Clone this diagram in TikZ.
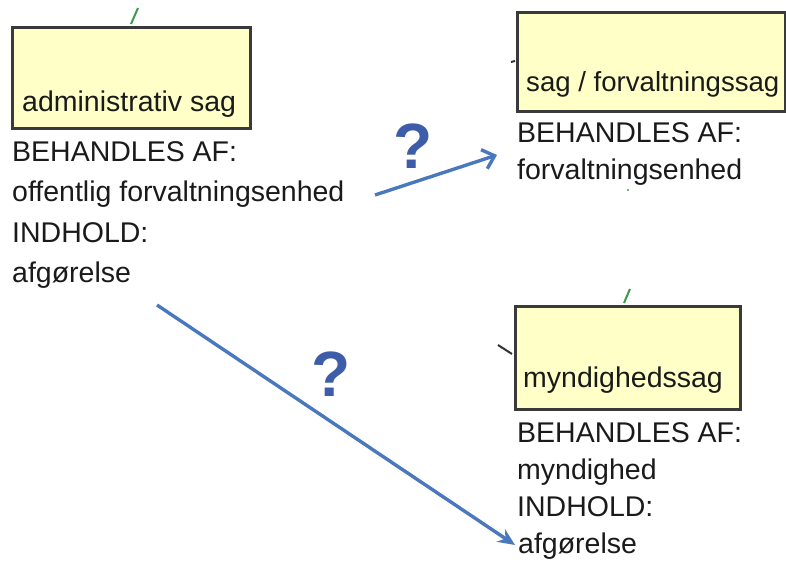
\documentclass[tikz,border=0pt]{standalone}
\usepackage{fontspec}
\setmainfont{Liberation Sans}
\usetikzlibrary{arrows.meta}
\definecolor{boxfill}{HTML}{FFFFC8}
\definecolor{boxline}{HTML}{3A3A3A}
\definecolor{linkblue}{HTML}{4A78BE}
\definecolor{qblue}{HTML}{3D5DA8}
\definecolor{tickgreen}{HTML}{3A9A4A}
\definecolor{txt}{HTML}{1A1A1A}
\begin{document}
\begin{tikzpicture}[x=1pt,y=-1pt,
  classbox/.style={draw=boxline, line width=2.6pt, fill=boxfill, anchor=north west, inner sep=0pt},
  lbl/.style={anchor=base west, inner sep=0pt, text=txt, font=\fontsize{28.5}{34}\selectfont},
  link/.style={draw=linkblue, line width=3.4pt},
  qmark/.style={text=qblue, font=\fontsize{64}{64}\selectfont\bfseries, inner sep=0pt},
  stub/.style={line width=2pt}]
\useasboundingbox (0,0) rectangle (786,569);

% class boxes
\node[classbox, minimum width=238pt, minimum height=101pt] (b1) at (11,26) {};
\node[classbox, minimum width=268pt, minimum height=99pt] (b2) at (516,11) {};
\node[classbox, minimum width=225pt, minimum height=103pt] (b3) at (514,305) {};

% small connector stubs on the boxes
\draw[stub, tickgreen] (131,24) -- (138,8);
\draw[stub, tickgreen] (624,303) -- (630,289);
\draw[stub, black!80] (498,345) -- (512,354);
\draw[stub, black!80] (511,62) -- (515,61);
\fill[tickgreen] (628,190) circle (1.2pt);

% box titles
\node[lbl] (t1) at (22,112) {administrativ sag};
\node[lbl, font=\fontsize{27.6}{34}\selectfont] (t2) at (526,92) {sag / forvaltningssag};
\node[lbl] (t3) at (523,387) {myndighedssag};

% attributes of "administrativ sag"
\node[lbl] (l11) at (12,162) {BEHANDLES AF:};
\node[lbl] (l12) at (12,202) {offentlig forvaltningsenhed};
\node[lbl] (l13) at (12,242) {INDHOLD:};
\node[lbl] (l14) at (12,282) {afgørelse};

% attributes of "sag / forvaltningssag"
\node[lbl] (l21) at (517,143) {BEHANDLES AF:};
\node[lbl] (l22) at (517,180) {forvaltningsenhed};

% attributes of "myndighedssag"
\node[lbl] (l31) at (517,442) {BEHANDLES AF:};
\node[lbl] (l32) at (517,479) {myndighed};
\node[lbl] (l33) at (517,516) {INDHOLD:};
\node[lbl] (l34) at (518,553) {afgørelse};

% connectors
\coordinate (a1s) at (375,195);
\coordinate (a1e) at (497,155);
\coordinate (a2s) at (157,305);
\coordinate (a2e) at (515,545);
\draw[link, -{Straight Barb[length=11pt,width=20pt,line width=3.4pt]}] (a1s) -- (a1e);
\draw[link, -{Stealth[length=17pt,width=15pt]}] (a2s) -- (a2e);

% question marks
\node[qmark] (q1) at (413,146) {?};
\node[qmark] (q2) at (331,374) {?};
\end{tikzpicture}
\end{document}
